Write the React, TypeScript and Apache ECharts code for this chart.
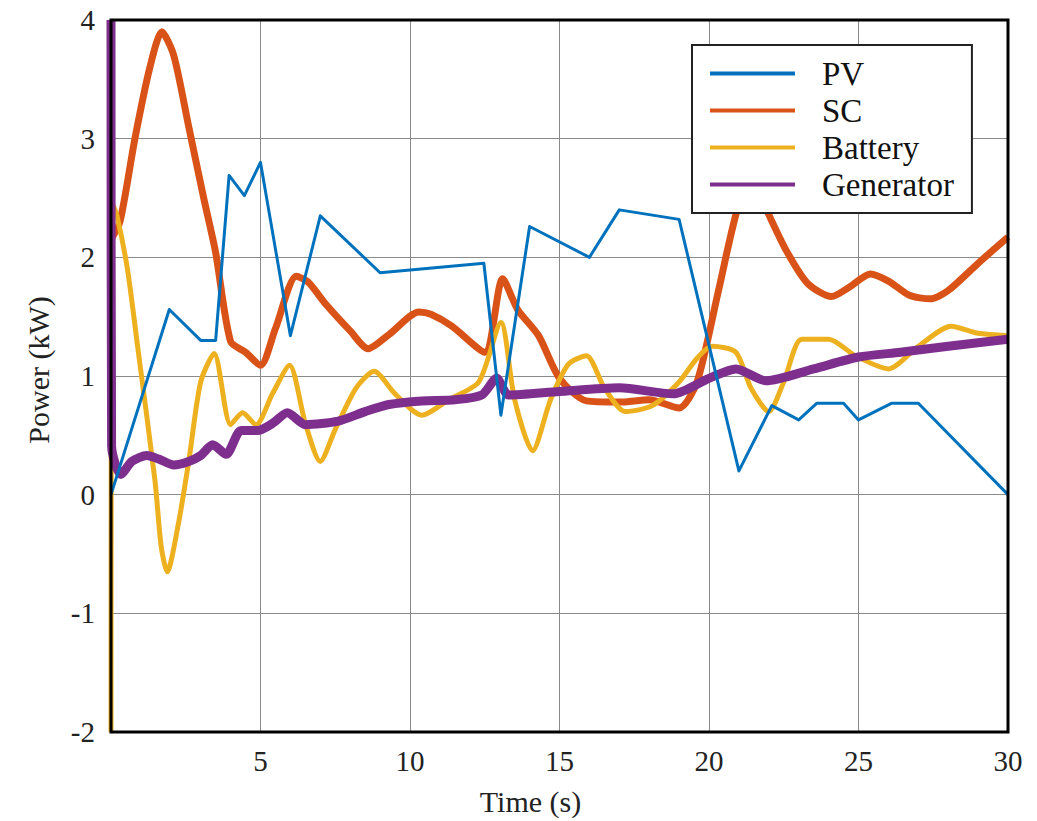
import React, { useEffect, useRef } from "react";
import * as echarts from "echarts";

const seriesNames = ["PV", "SC", "Battery", "Generator"];
const colors = ["#0072BD", "#D95319", "#EDB120", "#7E2F8E"];

const pvData: [number, number][] = [
  [0, 0], [1.95, 1.56], [3.0, 1.3], [3.5, 1.3], [3.95, 2.69], [4.46, 2.52], [5.0, 2.8],
  [6.0, 1.34], [7.0, 2.35], [9.0, 1.87], [12.47, 1.95], [13.04, 0.67], [14.0, 2.26],
  [16.0, 2.0], [17.0, 2.4], [19.0, 2.32], [21.0, 0.2], [22.1, 0.75], [23.0, 0.63],
  [23.6, 0.77], [24.5, 0.77], [25.0, 0.63], [26.1, 0.77], [27.0, 0.77], [30, 0],
];

const scData: [number, number][] = [
  [0, 2.15], [0.3, 2.3], [0.8, 3.0], [1.3, 3.6], [1.7, 3.9], [2.1, 3.7], [2.6, 3.1],
  [3.1, 2.5], [3.5, 2.04], [4.0, 1.29], [4.5, 1.2], [5.0, 1.09], [5.5, 1.4], [6.2, 1.84],
  [6.6, 1.79], [7.2, 1.6], [8.0, 1.38], [8.6, 1.23], [9.3, 1.35], [10.3, 1.54], [10.7, 1.52],
  [11.4, 1.42], [12.5, 1.2], [13.1, 1.82], [13.6, 1.56], [14.3, 1.34], [15.0, 0.98],
  [15.9, 0.79], [17.0, 0.78], [18.0, 0.8], [19.0, 0.73], [19.6, 0.95], [20.3, 1.7],
  [21.0, 2.45], [21.5, 2.65], [22.0, 2.36], [22.6, 2.05], [23.3, 1.78], [24.1, 1.67],
  [24.7, 1.75], [25.4, 1.86], [26.0, 1.8], [26.7, 1.68], [27.4, 1.65], [28.0, 1.72],
  [29.0, 1.95], [30, 2.17],
];

const batteryData: [number, number][] = [
  [0, -2], [0.05, 2.45], [0.2, 2.35], [0.55, 1.9], [0.9, 1.23], [1.47, 0.12], [1.68, -0.44],
  [1.88, -0.65], [2.25, -0.25], [2.6, 0.28], [3.0, 0.95], [3.45, 1.19], [4.0, 0.59],
  [4.4, 0.69], [4.85, 0.59], [5.4, 0.85], [5.97, 1.09], [6.5, 0.6], [7.0, 0.28], [7.5, 0.55],
  [8.2, 0.9], [8.8, 1.04], [9.5, 0.85], [10.4, 0.67], [11.3, 0.8], [12.3, 0.95],
  [13.04, 1.45], [13.5, 0.8], [14.1, 0.37], [14.7, 0.8], [15.3, 1.1], [15.9, 1.17],
  [16.5, 0.9], [17.2, 0.7], [18.1, 0.75], [19.0, 0.95], [19.6, 1.15], [20.1, 1.25],
  [20.9, 1.2], [21.4, 0.9], [22.0, 0.7], [22.5, 0.95], [23.1, 1.31], [24.0, 1.31],
  [24.9, 1.17], [26.0, 1.06], [27.0, 1.25], [28.1, 1.42], [29.0, 1.36], [30, 1.34],
];

const generatorData: [number, number][] = [
  [0, 4], [0.02, 0.41], [0.33, 0.17], [0.7, 0.28], [1.2, 0.33], [1.6, 0.3], [2.1, 0.25],
  [2.6, 0.28], [3.0, 0.33], [3.4, 0.42], [3.85, 0.34], [4.35, 0.54], [4.9, 0.54], [5.4, 0.6],
  [5.9, 0.69], [6.5, 0.59], [7.6, 0.62], [8.5, 0.7], [9.3, 0.76], [10.4, 0.79], [11.5, 0.8],
  [12.4, 0.84], [12.9, 0.98], [13.3, 0.84], [15, 0.87], [17, 0.9], [18.8, 0.85], [20, 0.98],
  [20.9, 1.06], [21.9, 0.96], [23.5, 1.06], [25, 1.16], [26.4, 1.2], [28, 1.25], [30, 1.31],
];

const xTicks = { min: 0, max: 30, interval: 5 };
const yTicks = { min: -2, max: 4, interval: 1 };

const FONT = "Liberation Serif";

export default function App() {
  const ref = useRef<HTMLDivElement>(null);
  useEffect(() => {
    if (!ref.current) return;
    const chart = echarts.init(ref.current, null, { renderer: "svg" });
    const datasets = [pvData, scData, batteryData, generatorData];
    const widths = [3, 7, 5, 9];
    const zs = [5, 2, 3, 4];
    chart.setOption({
      animation: false,
      backgroundColor: "#fff",
      grid: {
        left: 111,
        right: 29,
        top: 20,
        bottom: 84,
        show: true,
        borderColor: "#000",
        borderWidth: 3,
        backgroundColor: "transparent",
        z: 10,
      },
      legend: {
        orient: "vertical",
        left: 692,
        top: 45,
        itemWidth: 85,
        itemHeight: 4,
        icon: "rect",
        itemGap: 4,
        padding: [12, 18, 12, 18],
        backgroundColor: "#fff",
        borderColor: "#222",
        borderWidth: 2,
        z: 20,
        data: seriesNames,
        textStyle: {
          fontFamily: FONT,
          fontSize: 33,
          color: "#111",
          lineHeight: 33,
          padding: [0, 0, 0, 22],
        },
      },
      xAxis: {
        type: "value",
        min: xTicks.min,
        max: xTicks.max,
        interval: xTicks.interval,
        name: "Time (s)",
        nameLocation: "middle",
        nameGap: 54,
        nameTextStyle: {
          fontFamily: FONT,
          fontSize: 30,
          color: "#222",
          padding: [0, 58, 0, 0],
        },
        axisLine: { show: false },
        axisTick: { show: false },
        axisLabel: {
          fontFamily: FONT,
          fontSize: 29,
          color: "#222",
          margin: 14,
          showMinLabel: false,
        },
        splitLine: { show: true, lineStyle: { color: "#8a8a8a", width: 1 } },
      },
      yAxis: {
        type: "value",
        min: yTicks.min,
        max: yTicks.max,
        interval: yTicks.interval,
        name: "Power (kW)",
        nameLocation: "middle",
        nameGap: 58,
        nameTextStyle: {
          fontFamily: FONT,
          fontSize: 30,
          color: "#222",
          padding: [0, 0, 0, 12],
        },
        axisLine: { show: false },
        axisTick: { show: false },
        axisLabel: { fontFamily: FONT, fontSize: 29, color: "#222", margin: 16 },
        splitLine: { show: true, lineStyle: { color: "#8a8a8a", width: 1 } },
      },
      series: seriesNames.map((name, i) => ({
        name,
        type: "line",
        data: datasets[i],
        showSymbol: false,
        symbol: "none",
        smooth: i === 0 ? false : 0.25,
        z: zs[i],
        color: colors[i],
        itemStyle: { color: colors[i] },
        lineStyle: { color: colors[i], width: widths[i], join: "round" },
      })),
    });
    return () => chart.dispose();
  }, []);
  return (
    <div
      ref={ref}
      style={{ position: "fixed", left: 0, top: 0, width: 1037, height: 821 }}
    />
  );
}
